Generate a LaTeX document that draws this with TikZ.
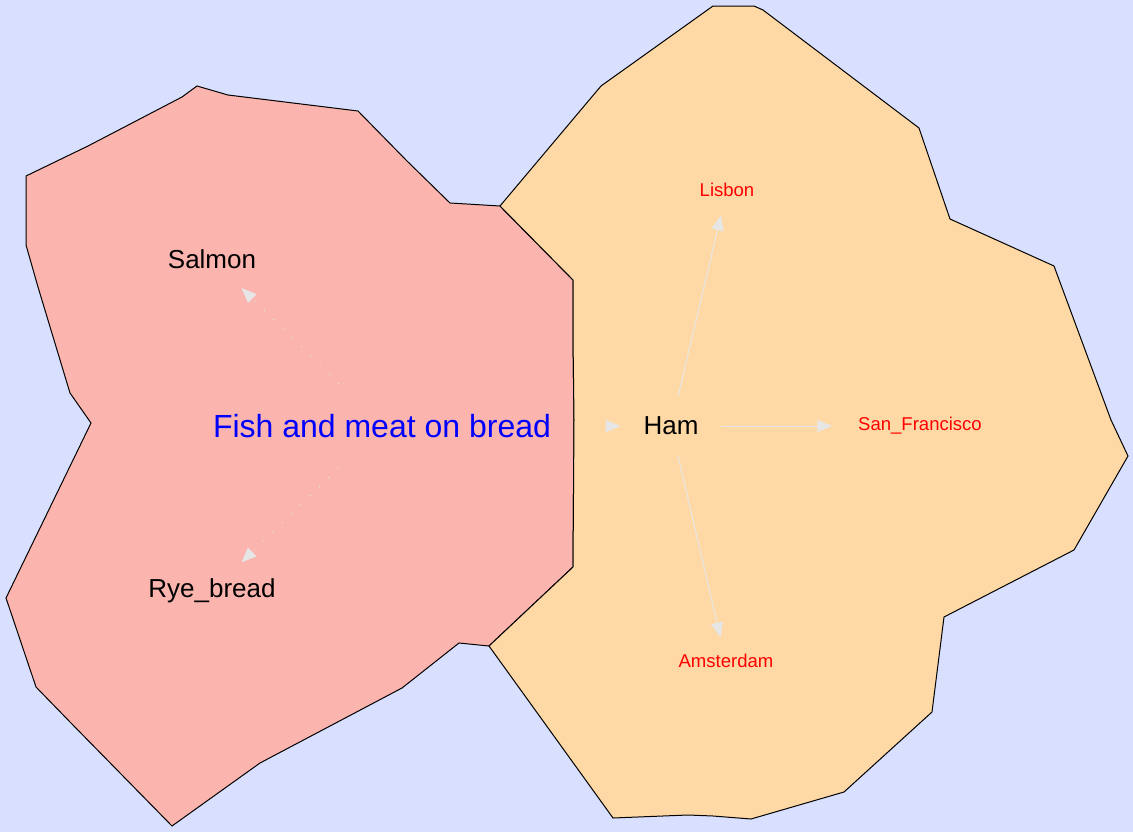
\documentclass[tikz,border=0pt]{standalone}
\usepackage{fontspec}
\setmainfont{Liberation Sans}
\usetikzlibrary{arrows.meta,shapes.geometric}
\definecolor{bgblue}{HTML}{D9E0FF}
\definecolor{fishfill}{HTML}{FBB4AE}
\definecolor{hamfill}{HTML}{FED9A6}
\definecolor{edgegray}{HTML}{E6E6E6}

\begin{document}
\begin{tikzpicture}[x=0.75pt,y=-0.75pt,>={Triangle[length=11.25pt,width=9pt]},
lbl/.style={ellipse,inner sep=0pt},
food/.style={lbl,font=\fontsize{19.5}{23}\selectfont},
city/.style={lbl,text=red,font=\fontsize{13.9}{16}\selectfont},
link/.style={->,color=edgegray,line width=0.75pt},
dotlink/.style={link,dash pattern=on 0.75pt off 9pt},
region/.style={draw=black,line width=0.75pt,line join=miter}]
% background
\fill[bgblue] (0,0) rectangle (1133,832);
\useasboundingbox (0,0) rectangle (1133,832);
% clusters
\filldraw[region,fill=fishfill] (26,176) -- (88,146) -- (182,97) -- (197,86) -- (228,95)
  -- (358,111) -- (407,161) -- (450,203) -- (500,206) -- (573,280) -- (573,337)
  -- (574,420) -- (573,567) -- (489,646) -- (459,643) -- (402,688) -- (260,763)
  -- (172,826) -- (71,723) -- (36,687) -- (6,598) -- (91,423) -- (70,393)
  -- (38,287) -- (26,245) -- cycle;
\filldraw[region,fill=hamfill] (500,206) -- (601,86) -- (713,6) -- (754,6) -- (763,10)
  -- (919,128) -- (950,219) -- (1054,266) -- (1111,420) -- (1128,456) -- (1074,550)
  -- (944,617) -- (932,712) -- (844,792) -- (751,819) -- (713,816) -- (688,815)
  -- (613,818) -- (489,646) -- (573,567) -- (574,420) -- (573,337) -- (573,280) -- cycle;
% nodes
\node[lbl,text=blue,font=\fontsize{24}{28}\selectfont,inner xsep=-7.9pt,minimum height=64.2pt] (fish) at (382,426) {Fish and meat on bread};
\node[food,minimum height=49pt] (salmon) at (212,259) {Salmon};
\node[food,minimum height=45pt] (rye) at (212,591) {Rye\_bread};
\node[food,minimum width=75pt,minimum height=45pt] (ham) at (671,426) {Ham};
\node[city,minimum height=38pt] (lisbon) at (727,190) {Lisbon};
\node[city] (sanfran) at (920,426) {San\_Francisco};
\node[city,minimum height=35pt] (amsterdam) at (726,661) {Amsterdam};
% edges
\draw[dotlink] (fish) -- (salmon);
\draw[dotlink] (fish) -- (rye);
\draw[link] (fish) -- (ham);
\draw[link] (ham) -- (lisbon);
\draw[link] (ham) -- (sanfran);
\draw[link] (ham) -- (amsterdam);
\end{tikzpicture}
\end{document}
